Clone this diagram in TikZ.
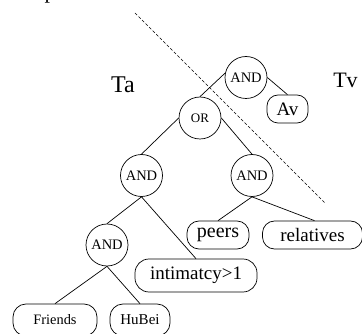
\documentclass[tikz,border=0pt]{standalone}
\usepackage{fontspec}
\setmainfont{Liberation Serif}
\begin{document}
\begin{tikzpicture}[x=1pt,y=-1pt,
  gate/.style={circle, draw, line width=0.7pt, minimum size=42pt, inner sep=0pt},
  leaf/.style={draw, rounded corners=12pt, line width=0.7pt, inner sep=0pt},
  link/.style={line width=0.7pt},
  sep/.style={line width=0.6pt, dash pattern=on 3pt off 2pt}]
\useasboundingbox (0,0) rectangle (362,334);
\clip (0,0) rectangle (362,334);
% partial glyph at top edge
\node[anchor=base west, inner sep=0pt, font=\fontsize{22}{22}\selectfont] (cut) at (44.5,-1.8) {p};
% separator
\coordinate (d1) at (135,13);
\coordinate (d2) at (325,203);
\draw[sep] (d1) -- (d2);
% labels
\node[anchor=base, inner sep=0pt, font=\fontsize{24}{24}\selectfont] (ta) at (123,93) {Ta};
\node[anchor=base, inner sep=0pt, font=\fontsize{22}{22}\selectfont] (tv) at (345.5,88) {Tv};
% gates
\node[gate, font=\fontsize{14.5}{14.5}\selectfont] (andtop) at (246,77.5) {AND};
\node[gate, font=\fontsize{13}{13}\selectfont] (or) at (200,118) {OR};
\node[gate, font=\fontsize{14.5}{14.5}\selectfont] (andl) at (141.5,175.5) {AND};
\node[gate, font=\fontsize{14.5}{14.5}\selectfont] (andr) at (252,175.5) {AND};
\node[gate, font=\fontsize{14.5}{14.5}\selectfont] (andll) at (107,245) {AND};
% leaves
\node[leaf, rounded corners=11pt, minimum width=41pt, minimum height=28pt, font=\fontsize{19}{19}\selectfont] (av) at (287.5,109) {Av};
\node[leaf, minimum width=62pt, minimum height=28pt, font=\fontsize{20}{20}\selectfont] (peers) at (218,235) {peers};
\node[leaf, minimum width=100pt, minimum height=28pt, font=\fontsize{19}{19}\selectfont] (rel) at (312.5,235) {relatives};
\node[leaf, rounded corners=14pt, minimum width=122pt, minimum height=33pt, font=\fontsize{19}{19}\selectfont] (int) at (196,275.5) {intimatcy>1};
\node[leaf, rounded corners=13pt, minimum width=84pt, minimum height=32pt, font=\fontsize{14.4}{14.4}\selectfont] (fr) at (55,320) {Friends};
\node[leaf, rounded corners=13pt, minimum width=60pt, minimum height=32pt, font=\fontsize{15}{15}\selectfont] (hb) at (140,320) {HuBei};
% connectors
\draw[link] (andtop.168) -- (or.north);
\draw[link] (andtop.east) -- (av.north);
\draw[link] (or.west) -- (andl.north);
\draw[link] (or.east) -- (andr.north);
\draw[link] (andl.south) -- (andll.north);
\draw[link] (andl.south) -- (int.north);
\draw[link] (andr.south) -- (peers.north);
\draw[link] (andr.south) -- ([xshift=2pt]rel.north);
\draw[link] (andll.south) -- (fr.north);
\draw[link] (andll.south) -- (hb.north);
\end{tikzpicture}
\end{document}
